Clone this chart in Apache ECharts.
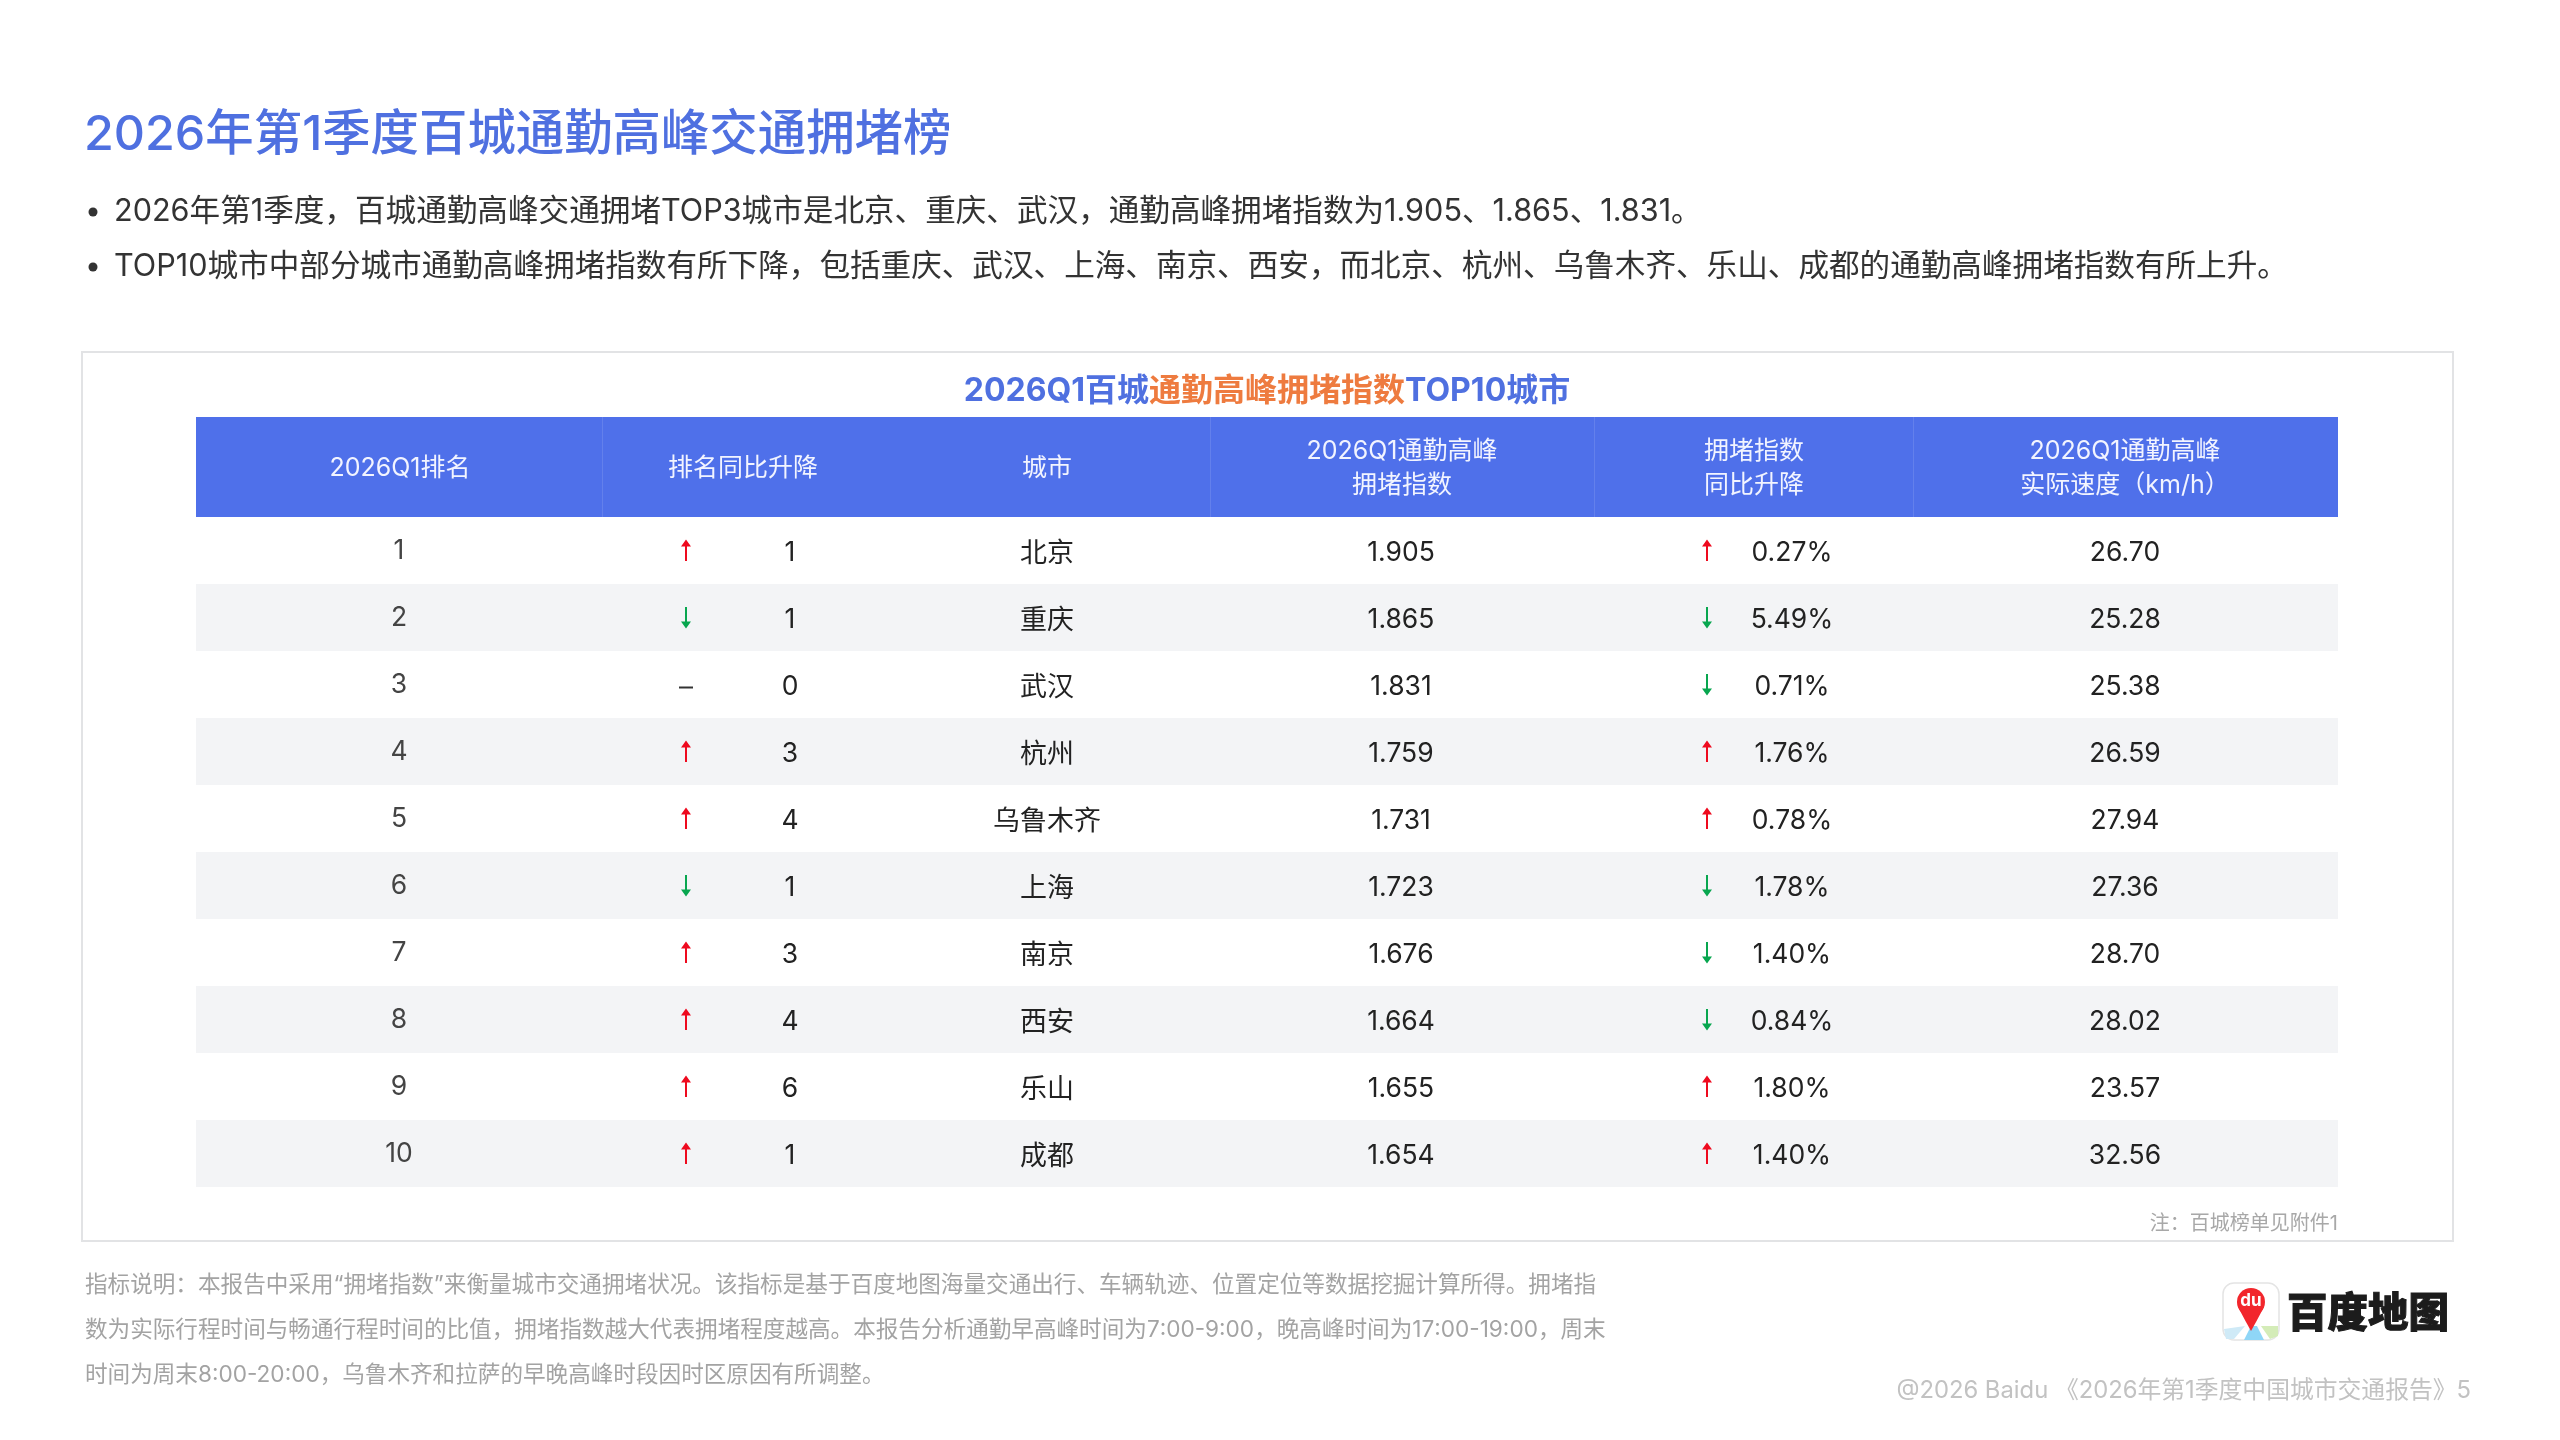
<!DOCTYPE html>
<html><head><meta charset="utf-8">
<style>html,body{margin:0;padding:0;background:#fff}#c{width:2560px;height:1440px}</style>
<script src="https://cdn.jsdelivr.net/npm/echarts@6/dist/echarts.min.js"></script>
</head><body><div id="c"></div>
<script>
const ranks=[1,2,3,4,5,6,7,8,9,10];
const rankDir=[1,-1,0,1,1,-1,1,1,1,1];
const rankChange=[1,1,0,3,4,1,3,4,6,1];
const cities=['北京','重庆','武汉','杭州','乌鲁木齐','上海','南京','西安','乐山','成都'];
const indexValues=[1.905,1.865,1.831,1.759,1.731,1.723,1.676,1.664,1.655,1.654];
const indexDir=[1,-1,-1,1,1,-1,-1,-1,1,1];
const indexChange=[0.27,5.49,0.71,1.76,0.78,1.78,1.40,0.84,1.80,1.40];
const speeds=[26.70,25.28,25.38,26.59,27.94,27.36,28.70,28.02,23.57,32.56];
const headers=[['2026Q1排名'],['排名同比升降'],['城市'],['2026Q1通勤高峰','拥堵指数'],['拥堵指数','同比升降'],['2026Q1通勤高峰','实际速度（km/h）']];
const pageTitle='2026年第1季度百城通勤高峰交通拥堵榜';
const bullets=['2026年第1季度，百城通勤高峰交通拥堵TOP3城市是北京、重庆、武汉，通勤高峰拥堵指数为1.905、1.865、1.831。',
'TOP10城市中部分城市通勤高峰拥堵指数有所下降，包括重庆、武汉、上海、南京、西安，而北京、杭州、乌鲁木齐、乐山、成都的通勤高峰拥堵指数有所上升。'];
const notes=['指标说明：本报告中采用“拥堵指数”来衡量城市交通拥堵状况。该指标是基于百度地图海量交通出行、车辆轨迹、位置定位等数据挖掘计算所得。拥堵指',
'数为实际行程时间与畅通行程时间的比值，拥堵指数越大代表拥堵程度越高。本报告分析通勤早高峰时间为7:00-9:00，晚高峰时间为17:00-19:00，周末',
'时间为周末8:00-20:00，乌鲁木齐和拉萨的早晚高峰时段因时区原因有所调整。'];

const FONT='Inter,"Noto Sans CJK SC",sans-serif';
const BLUE='#4f70ea', RED='#ee0a1e', GREEN='#08a64f';
const colX={rank:399,arrow1:686,change:790,city:1047,index:1401,arrow2:1707,pct:1792,speed:2125};
const headCenters=[400,743,1047,1402,1754,2125];
const headSeps=[602,1210,1594,1913];
const L=196,R=2338,HT=417,HB=517;

function arrow(cx,cy,dir,color){
  if(dir===0) return {type:'rect',shape:{x:cx-7,y:cy+2,width:14,height:2},style:{fill:'#333'}};
  const s=dir>0?-1:1;
  const tail=cy-s*10.5, neck=cy+s*4, tip=cy+s*11;
  return {type:'polygon',shape:{points:[[cx-1,tail],[cx+1,tail],[cx+1,neck],[cx+5,neck],[cx,tip],[cx-5,neck],[cx-1,neck]]},style:{fill:color}};
}
function cellText(x,y,t,c,size){
  return {type:'text',style:{x,y,text:t,fill:c||'#222',font:(size||26.5)+'px '+FONT,textAlign:'center',textVerticalAlign:'middle'}};
}
function renderRow(params,api){
  const i=api.value(0);
  const c=api.coord([L,i]);
  const band=api.size([0,1])[1];
  const y=c[1];
  const kids=[];
  if(i%2===1) kids.push({type:'rect',shape:{x:L,y:y-band/2,width:R-L,height:band},style:{fill:'#f3f4f6'}});
  const X=v=>api.coord([v,i])[0];
  kids.push(cellText(X(colX.rank),y+1,String(ranks[i]),'#444'));
  kids.push(arrow(X(colX.arrow1),y,rankDir[i],rankDir[i]>0?RED:GREEN));
  kids.push(cellText(X(colX.change),y+3,String(rankChange[i])));
  kids.push(cellText(X(colX.city),y+3,cities[i],'#222',27));
  kids.push(cellText(X(colX.index),y+3,indexValues[i].toFixed(3)));
  kids.push(arrow(X(colX.arrow2),y,indexDir[i],indexDir[i]>0?RED:GREEN));
  kids.push(cellText(X(colX.pct),y+3,indexChange[i].toFixed(2)+'%'));
  kids.push(cellText(X(colX.speed),y+3,speeds[i].toFixed(2)));
  return {type:'group',children:kids};
}
const g=[];
g.push({type:'rect',z:0,shape:{x:82,y:352,width:2371,height:889},style:{fill:'#fff',stroke:'#e2e3e5',lineWidth:2}});
g.push({type:'text',style:{x:84,y:135,text:pageTitle,fill:'#4f70e0',font:'500 48.4px '+FONT,textVerticalAlign:'middle'}});
[212,267].forEach((y,i)=>{
  g.push({type:'circle',shape:{cx:93,cy:y,r:4.5},style:{fill:'#333'}});
  g.push({type:'text',style:{x:114,y,text:bullets[i],fill:'#333',font:'30.6px '+FONT,textVerticalAlign:'middle'}});
});
g.push({type:'text',style:{x:1267,y:391,text:'{b|2026Q1百城}{o|通勤高峰拥堵指数}{b|TOP10城市}',textAlign:'center',textVerticalAlign:'middle',
  rich:{b:{fill:'#4f70e0',font:'bold 32px '+FONT},o:{fill:'#ee7b3f',font:'bold 32px '+FONT}}}});
g.push({type:'rect',shape:{x:L,y:HT,width:R-L,height:HB-HT},style:{fill:BLUE}});
headSeps.forEach(x=>g.push({type:'rect',shape:{x,y:HT,width:1,height:HB-HT},style:{fill:'#6380ec'}}));
headers.forEach((h,i)=>{
  h.forEach((t,j)=>{
    const y=h.length===1?468:451+j*34;
    g.push({type:'text',style:{x:headCenters[i],y,text:t,fill:'#f2f4ff',font:'25px '+FONT,textAlign:'center',textVerticalAlign:'middle'}});
  });
});
g.push({type:'text',style:{x:2338,y:1224,text:'注：百城榜单见附件1',fill:'#a8a8a8',font:'20px '+FONT,textAlign:'right',textVerticalAlign:'middle'}});
[1285,1330,1375].forEach((y,i)=>g.push({type:'text',style:{x:85,y,text:notes[i],fill:'#a3a3a3',font:'22.6px '+FONT,textVerticalAlign:'middle'}}));
g.push({type:'text',style:{x:2471,y:1391,text:'@2026 Baidu 《2026年第1季度中国城市交通报告》5',fill:'#c2c2c2',font:'23.8px '+FONT,textAlign:'right',textVerticalAlign:'middle'}});
// logo
g.push({type:'rect',shape:{x:2223,y:1283,width:56,height:57,r:11},style:{fill:'#fff',stroke:'#e4e4e4',lineWidth:1.5}});
g.push({type:'polygon',shape:{points:[[2224,1329],[2245,1326],[2234,1339],[2226,1339]]},style:{fill:'#cfeaf7'}});
g.push({type:'polygon',shape:{points:[[2244,1340],[2251,1326],[2257,1326],[2264,1340]]},style:{fill:'#8fd6f7'}});
g.push({type:'polygon',shape:{points:[[2261,1326],[2278,1326],[2278,1336],[2270,1339]]},style:{fill:'#d4ecb8'}});
g.push({type:'polygon',shape:{points:[[2238,1307],[2264,1307],[2256,1322],[2251,1331],[2246,1322]]},style:{fill:'#f2262c'}});
g.push({type:'circle',shape:{cx:2251,cy:1302,r:14},style:{fill:'#f2262c'}});
g.push({type:'text',style:{x:2251,y:1301,text:'du',fill:'#fff',font:'bold 17px '+FONT,textAlign:'center',textVerticalAlign:'middle'}});
g.push({type:'text',style:{x:2287,y:1312,text:'百度地图',fill:'#1c1c1c',font:'900 40.5px "Noto Sans CJK SC",sans-serif',textVerticalAlign:'middle',stroke:'#1c1c1c',lineWidth:1}});

const chart=echarts.init(document.getElementById('c'));
chart.setOption({
  animation:false,backgroundColor:'#fff',
  graphic:{elements:g},
  grid:{left:L,right:2560-R,top:HB,bottom:1440-1187,containLabel:false},
  xAxis:{type:'value',min:L,max:R,show:false},
  yAxis:{type:'category',inverse:true,data:ranks,show:false},
  series:[{type:'custom',coordinateSystem:'cartesian2d',z:5,data:ranks.map((r,i)=>[i,i]),encode:{x:-1,y:1},renderItem:renderRow,silent:true}]
});
</script></body></html>
